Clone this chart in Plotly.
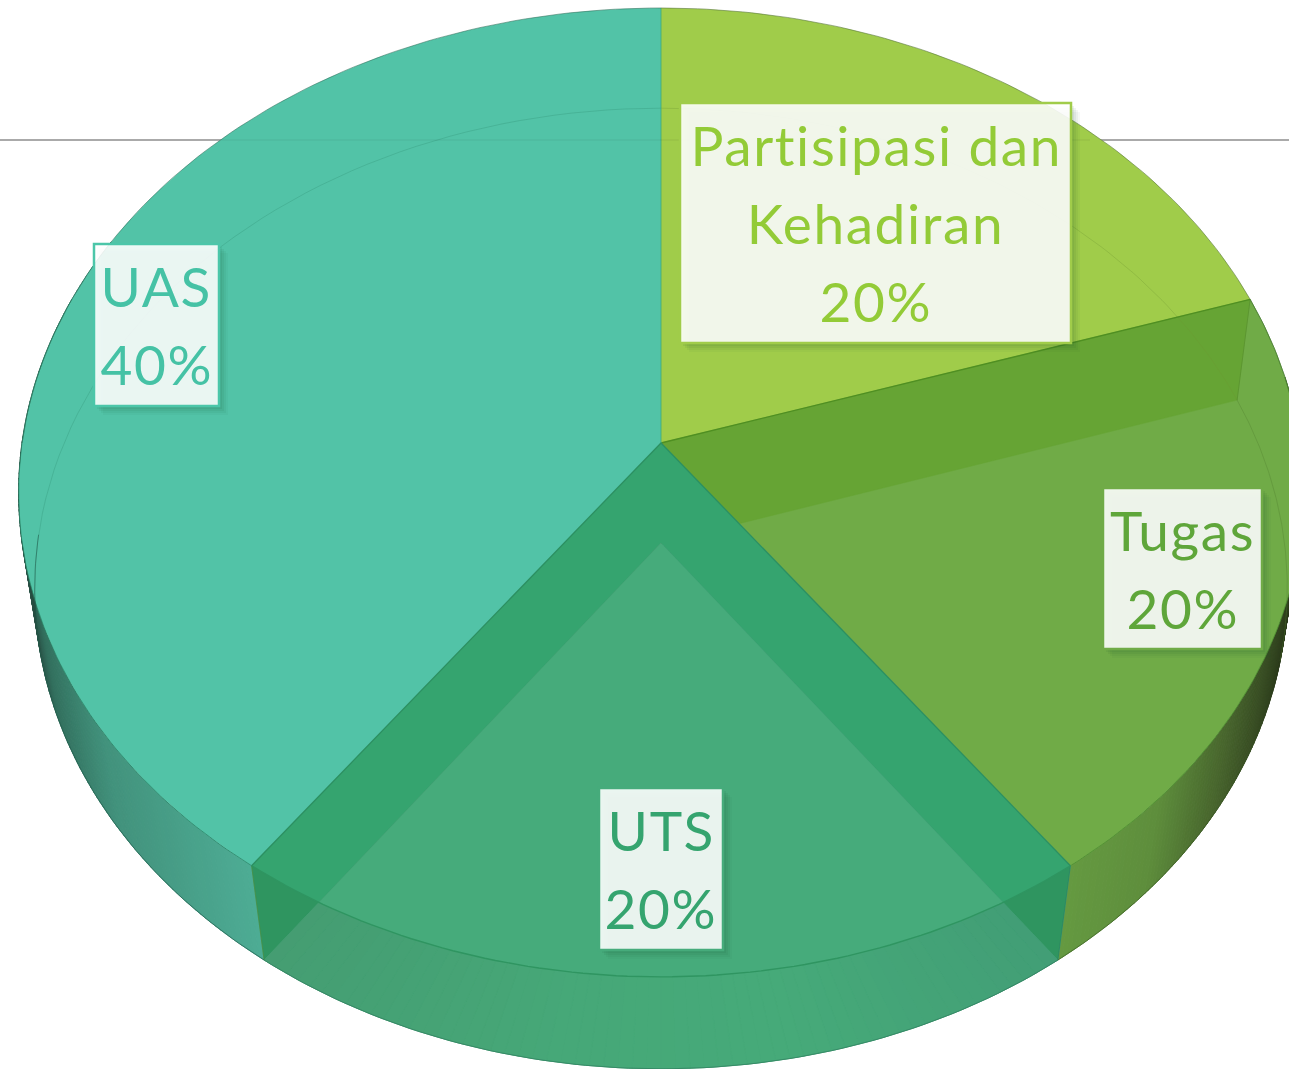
import math
import textwrap
import plotly.graph_objects as go

# ---- data ----
categories = ["Partisipasi dan Kehadiran", "Tugas", "UTS", "UAS"]
values = [20, 20, 20, 40]

# ---- styles ----
face_colors = ["#A0CC4A", "#70AB47", "#46AB7B", "#52C3A7"]
text_colors = ["#93CB37", "#5FA63A", "#35A46F", "#45C2A5"]
border_colors = ["#A0CC4A", "#70AB47", "#46AB7B", "#4CC6A9"]
TUGAS_BAND = "#66A434"
UTS_BAND = "#35A46F"
UTS_CORNER = "#2F9560"
UTS_SIDE = "#46A577"
# left-to-right side shading: (pixel x, rgb)
UAS_SIDE = [(25, (38, 72, 62)), (50, (50, 112, 94)), (110, (66, 146, 124)), (265, (78, 174, 150))]
TUGAS_SIDE = [(1060, (101, 154, 65)), (1150, (94, 142, 60)), (1225, (70, 98, 44)), (1300, (38, 50, 24))]
UTS_FLOOR = [(260, (69, 157, 114)), (560, (70, 168, 120)), (800, (70, 170, 121)), (1060, (66, 158, 118))]

# label boxes (left, top, right, bottom)
boxes = [(680, 103, 1071, 343), (1103, 488, 1262, 649), (599, 788, 723, 950), (94, 244, 219, 406)]
LINE_GAP = 78
FONT_SIZE = 55

# projection of the pie's circle on to the page (perspective)
TOP = dict(cy=443, a=639.0, b=479.4, k=0.102)
LOW = dict(cy=543, a=623.5, b=476.0, k=0.0947)
CX = 661


def rim(deg, P):
    t = math.radians(deg)
    u, v = math.sin(t), math.cos(t)
    w = 1 + P["k"] * v
    return CX + P["a"] * u / w, P["cy"] - P["b"] * v / w


def arc(d0, d1, P, n=80):
    return [rim(d0 + (d1 - d0) * i / n, P) for i in range(n + 1)]


def unproject(x, y, P):
    Y = P["cy"] - y
    v = Y / (P["b"] - P["k"] * Y)
    w = 1 + P["k"] * v
    u = (x - CX) * w / P["a"]
    return u, v


def rim_hit(a, b, P):
    """Point on segment a->b where it leaves the rim of P (a inside, b outside)."""
    lo, hi = 0.0, 1.0
    for _ in range(40):
        m = (lo + hi) / 2
        x, y = a[0] + (b[0] - a[0]) * m, a[1] + (b[1] - a[1]) * m
        u, v = unproject(x, y, P)
        if u * u + v * v <= 1:
            lo = m
        else:
            hi = m
    return a[0] + (b[0] - a[0]) * lo, a[1] + (b[1] - a[1]) * lo


def angle_of(p, P):
    u, v = unproject(p[0], p[1], P)
    return math.degrees(math.atan2(u, v)) % 360


fig = go.Figure()


def poly(points, color, line=None, width=0.0):
    pts = list(points) + [points[0]]
    fig.add_trace(go.Scatter(
        x=[p[0] for p in pts], y=[p[1] for p in pts], mode="lines", fill="toself",
        fillcolor=color, line=dict(color=line or color, width=width),
        hoverinfo="skip", showlegend=False))


def stroke(points, color, width=1.0):
    fig.add_trace(go.Scatter(
        x=[p[0] for p in points], y=[p[1] for p in points], mode="lines",
        line=dict(color=color, width=width), hoverinfo="skip", showlegend=False))


def ramp(x, stops):
    if x <= stops[0][0]:
        c = stops[0][1]
    elif x >= stops[-1][0]:
        c = stops[-1][1]
    else:
        for (x0, c0), (x1, c1) in zip(stops, stops[1:]):
            if x0 <= x <= x1:
                f = (x - x0) / (x1 - x0)
                c = tuple(c0[i] + (c1[i] - c0[i]) * f for i in range(3))
                break
    return "rgb(%d,%d,%d)" % tuple(round(n) for n in c)


def side(d0, d1, stops, n=130):
    for i in range(n):
        a0 = d0 + (d1 - d0) * i / n
        a1 = d0 + (d1 - d0) * (i + 1) / n
        q = [rim(a0, TOP), rim(a1, TOP), rim(a1, LOW), rim(a0, LOW)]
        col = ramp(sum(p[0] for p in q) / 4, stops)
        poly(q, col, col, 1)


# wedge limits, clockwise from twelve o'clock
edges = [0]
for val in values:
    edges.append(edges[-1] + 360 * val / sum(values))
PART = (edges[0], edges[1])
TUG = (edges[1], edges[2])
UTS = (edges[2], edges[3])
UAS = (edges[3], edges[4])
A_TOP = (CX, TOP["cy"])
A_LOW = (CX, LOW["cy"])

# outer side walls
side(UAS[0], UAS[0] + 80, UAS_SIDE)
side(TUG[0] + 10, TUG[1], TUGAS_SIDE)
poly(arc(*UTS, TOP) + arc(UTS[1], UTS[0], LOW), UTS_SIDE, UTS_SIDE, 1)

# flat top faces
poly([A_TOP] + arc(*UAS, TOP), face_colors[3])
poly([A_TOP] + arc(*PART, TOP), face_colors[0])
poly([A_TOP] + arc(*TUG, TOP), face_colors[1])

# cut wall seen through the Tugas face
poly([A_TOP, rim(TUG[0], TOP), rim(TUG[0], LOW), A_LOW], TUGAS_BAND, TUGAS_BAND, 0.5)

# UTS: cut walls, top wedge, floor wedge
for d in (UTS[0], UTS[1]):
    poly([A_TOP, rim(d, TOP), rim(d, LOW), A_LOW], UTS_CORNER)
poly([A_TOP] + arc(*UTS, TOP), UTS_BAND)
NFAN = 60
for i in range(NFAN):
    a0 = UTS[0] + (UTS[1] - UTS[0]) * i / NFAN
    a1 = UTS[0] + (UTS[1] - UTS[0]) * (i + 1) / NFAN
    col = ramp((rim(a0, LOW)[0] + rim(a1, LOW)[0]) / 2, UTS_FLOOR)
    poly([A_LOW, rim(a0, LOW), rim(a1, LOW)], col, col, 0.6)
p0 = rim_hit(A_LOW, rim(UTS[0], LOW), TOP)
p1 = rim_hit(A_LOW, rim(UTS[1], LOW), TOP)
poly([A_LOW, p0] + arc(angle_of(p0, TOP), angle_of(p1, TOP), TOP) + [p1], face_colors[2])

# faint floor rim behind the faces
stroke(arc(*UAS, LOW), "rgba(40,130,105,0.25)", 1)
stroke(arc(*PART, LOW), "rgba(110,150,50,0.3)", 1)
stroke(arc(TUG[0], TUG[0] + 32, LOW), "rgba(80,125,45,0.35)", 1)
stroke([rim(TUG[0], TOP), rim(TUG[0], LOW)], "rgba(85,140,45,0.6)", 1)
stroke([rim(UTS[0], TOP), rim(UTS[0], LOW)], "rgba(40,125,95,0.6)", 1)
stroke([rim(UTS[1], TOP), rim(UTS[1], LOW)], "rgba(80,140,60,0.6)", 1)

# edges of the faces
stroke(arc(*UTS, TOP), "#2F9561", 1.4)
stroke(arc(*TUG, TOP), "rgba(80,145,50,0.85)", 1)
stroke(arc(UAS[0], UAS[0] + 72, TOP), "rgba(40,130,100,0.7)", 1)
stroke([rim(TUG[0], TOP), A_TOP], "#4F8F22", 1.4)
stroke([rim(UTS[0], TOP), A_TOP, rim(UTS[1], TOP)], "#2C9062", 1.3)
stroke([A_TOP, rim(0, TOP)], "rgba(60,170,120,0.8)", 1)
# outer silhouette
stroke(arc(270, 360, TOP), "rgba(50,110,90,0.55)", 1)
stroke(arc(0, 72, TOP), "rgba(90,120,60,0.6)", 1)
stroke(arc(72, 100, TOP), "rgba(70,110,50,0.5)", 1)
stroke(arc(UTS[0], UTS[1], LOW), "rgba(40,110,85,0.5)", 1)
stroke(arc(TUG[1], TUG[1] - 32, LOW), "rgba(50,80,30,0.5)", 1)
stroke(arc(UAS[0], UAS[0] + 55, LOW), "rgba(30,80,65,0.5)", 1)

shapes = [
    dict(type="line", x0=0, x1=1289, y0=140, y1=140, layer="below",
         line=dict(color="#8E8E8E", width=1.5)),
    # the same rule faintly seen through the pie
    dict(type="line", x0=221, x1=1090, y0=140, y1=140, layer="above",
         line=dict(color="rgba(0,0,0,0.05)", width=1.5)),
]
annotations = []
for cat, val, box, txt, brd in zip(categories, values, boxes, text_colors, border_colors):
    l, t, r, b = box
    for off, a in ((9, 0.04), (7, 0.05), (5, 0.06), (3, 0.07)):
        shapes.append(dict(type="rect", x0=l + off, x1=r + off, y0=t + off, y1=b + off,
                           layer="above", fillcolor="rgba(20,70,40,%g)" % a, line_width=0))
    shapes.append(dict(type="rect", x0=l, x1=r, y0=t, y1=b, layer="above",
                       fillcolor="rgba(255,255,255,0.89)",
                       line=dict(color=brd, width=2.5)))
    lines = textwrap.wrap(cat, 16) + [f"{val}%"]
    mid = (t + b) / 2
    for i, text in enumerate(lines):
        annotations.append(dict(
            x=(l + r) / 2, y=mid + (i - (len(lines) - 1) / 2) * LINE_GAP,
            xref="x", yref="y", text=text, showarrow=False,
            xanchor="center", yanchor="middle",
            font=dict(family="Lato", size=FONT_SIZE, color=txt)))

fig.update_layout(
    width=1289, height=1069, margin=dict(l=0, r=0, t=0, b=0),
    paper_bgcolor="white", plot_bgcolor="white", showlegend=False,
    xaxis=dict(range=[0, 1289], visible=False, fixedrange=True),
    yaxis=dict(range=[1069, 0], visible=False, fixedrange=True),
    shapes=shapes, annotations=annotations,
)

page_js = """
document.body.style.margin='0';document.body.style.overflow='hidden';
var s=document.createElement('style');
s.textContent='.annotation-text{font-variant-ligatures:none;letter-spacing:1.6px;}';
document.head.appendChild(s);
"""
fig.write_html("out.html", config={"displayModeBar": False}, post_script=page_js)
